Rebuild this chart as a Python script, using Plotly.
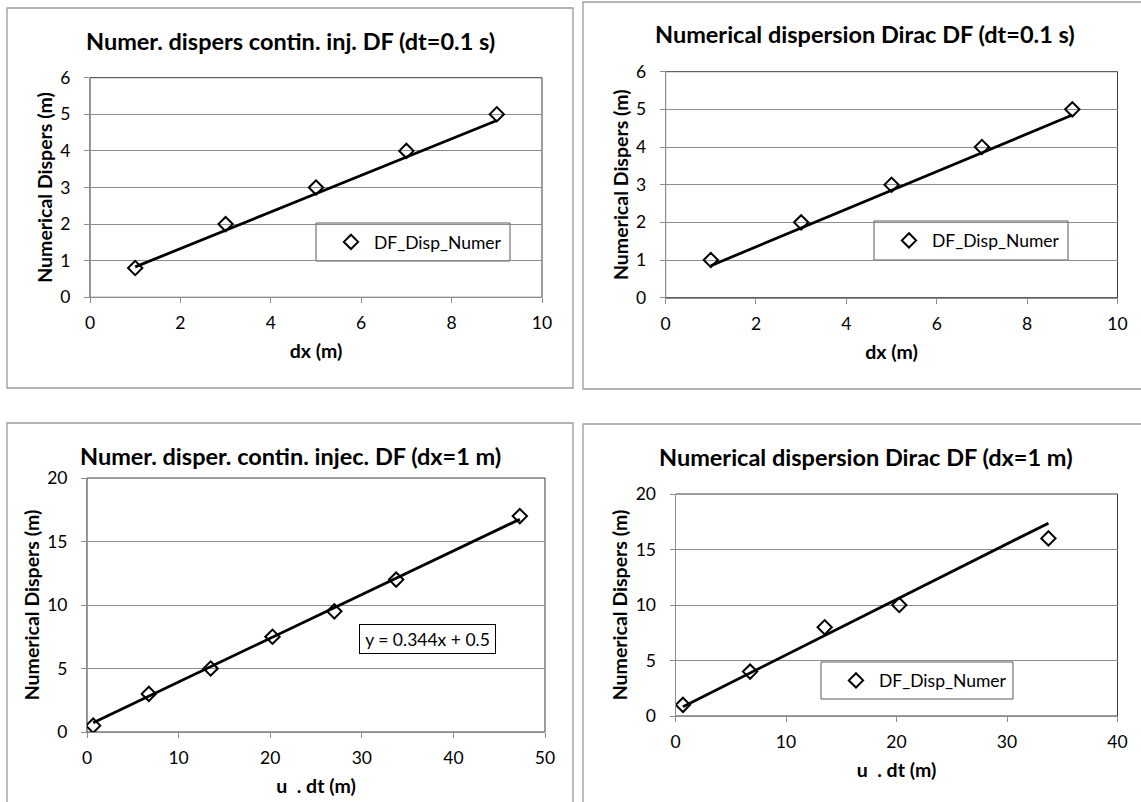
import plotly.graph_objects as go

W, H = 1141, 802

# ---------------- data ----------------
dx_values = [1, 3, 5, 7, 9]
disp_contin_dt = [0.8, 2, 3, 4, 5]
disp_dirac_dt = [1, 2, 3, 4, 5]

udt_contin = [0.675, 6.75, 13.5, 20.25, 27.0, 33.75, 47.25]
disp_contin_dx = [0.5, 3, 5, 7.5, 9.5, 12, 17]

udt_dirac = [0.675, 6.75, 13.5, 20.25, 33.75]
disp_dirac_dx = [1, 4, 8, 10, 16]

# trend lines: (slope, intercept)
trend_tl = (0.5, 0.33)
trend_tr = (0.5, 0.35)
trend_bl = (0.344, 0.5)
trend_br = (0.5, 0.5)

titles = [
    "Numer. dispers contin. inj. DF (dt=0.1 s)",
    "Numerical dispersion Dirac DF (dt=0.1 s)",
    "Numer. disper. contin. injec. DF (dx=1 m)",
    "Numerical dispersion Dirac DF (dx=1 m)",
]
x_titles = ["dx (m)", "dx (m)", "u\u00a0 . dt (m)", "u\u00a0 . dt (m)"]
y_title = "Numerical Dispers (m)"
x_ranges = [(0, 10, 2), (0, 10, 2), (0, 50, 10), (0, 40, 10)]
y_ranges = [(0, 6, 1), (0, 6, 1), (0, 20, 5), (0, 20, 5)]
legend_name = "DF_Disp_Numer"
equation_text = "y = 0.344x + 0.5"

# ---------------- layout helpers (pixel -> paper) ----------------
def px(x):
    return x / W

def py(y):
    return 1 - y / H

FONT = "Lato, 'Open Sans', sans-serif"
GRID = "#8c8c8c"
BORDER = "#9a9a9a"
TICK_SIZE = 17.5
AXT_SIZE = 19.5
TITLE_SIZE = 23.5
LEG_SIZE = 17.5

# plot areas in pixels: (x0, x1, ytop, ybottom)
areas = [
    (90, 542, 77.7, 297.3),
    (665.6, 1117.5, 71.7, 297.7),
    (87, 545, 478, 732),
    (675.5, 1117.5, 494, 716),
]
# panel frames (x0, x1, y0, y1)
frames = [
    (7, 573, 8, 388),
    (583, 1160, 2, 389),
    (7, 573, 423, 830),
    (583, 1160, 424, 830),
]
title_pos = [(290, 41), (865, 34), (290, 456), (866, 457)]

fig = go.Figure()

series = [
    (dx_values, disp_contin_dt, trend_tl, "legend"),
    (dx_values, disp_dirac_dt, trend_tr, "legend2"),
    (udt_contin, disp_contin_dx, trend_bl, None),
    (udt_dirac, disp_dirac_dx, trend_br, "legend3"),
]

for i, (xs, ys, (m, b), leg) in enumerate(series):
    sfx = "" if i == 0 else str(i + 1)
    xa, ya = "x" + sfx, "y" + sfx
    tx = [min(xs), max(xs)]
    ty = [m * v + b for v in tx]
    fig.add_trace(go.Scatter(
        x=tx, y=ty, mode="lines", xaxis=xa, yaxis=ya,
        line=dict(color="black", width=2.8), showlegend=False, hoverinfo="skip"))
    kw = dict(showlegend=leg is not None)
    if leg is not None:
        kw["legend"] = leg
    fig.add_trace(go.Scatter(
        x=xs, y=ys, mode="markers", xaxis=xa, yaxis=ya, name=legend_name,
        marker=dict(symbol="diamond-open", size=11, color="black",
                    line=dict(color="black", width=2)), **kw))

layout = dict(
    width=W, height=H, margin=dict(l=0, r=0, t=0, b=0),
    paper_bgcolor="white", plot_bgcolor="white",
    font=dict(family=FONT, color="black"),
    shapes=[], annotations=[],
)

for i, ((x0, x1, yt, yb), (xr0, xr1, xd), (yr0, yr1, yd)) in enumerate(zip(areas, x_ranges, y_ranges)):
    sfx = "" if i == 0 else str(i + 1)
    layout["xaxis" + sfx] = dict(
        domain=[px(x0), px(x1)], range=[xr0, xr1], dtick=xd, tick0=0,
        anchor="y" + sfx, showgrid=False, zeroline=False,
        showline=True, linecolor=GRID, linewidth=1,
        ticks="outside", ticklen=5, tickcolor=GRID, tickwidth=1,
        tickfont=dict(size=TICK_SIZE, family=FONT, color="black"),
        ticklabelstandoff=5,
        title=dict(text="<b>%s</b>" % x_titles[i], font=dict(size=AXT_SIZE, family=FONT), standoff=12),
        automargin=False, fixedrange=True,
    )
    layout["yaxis" + sfx] = dict(
        domain=[py(yb), py(yt)], range=[yr0, yr1], dtick=yd, tick0=0,
        anchor="x" + sfx, showgrid=True, gridcolor=GRID, gridwidth=1, zeroline=False,
        showline=True, linecolor=GRID, linewidth=1,
        ticks="outside", ticklen=5, tickcolor=GRID, tickwidth=1,
        tickfont=dict(size=TICK_SIZE, family=FONT, color="black"),
        ticklabelstandoff=10,
        title=dict(text="<b>%s</b>" % y_title, font=dict(size=AXT_SIZE, family=FONT), standoff=2),
        automargin=False, fixedrange=True,
    )
    # plot area border (top / right visible, darker)
    layout["shapes"].append(dict(
        type="rect", xref="paper", yref="paper", layer="below",
        x0=px(x0), x1=px(x1), y0=py(yb), y1=py(yt),
        line=dict(color="#3c3c3c", width=1)))
    # panel frame
    fx0, fx1, fy0, fy1 = frames[i]
    layout["shapes"].append(dict(
        type="rect", xref="paper", yref="paper", layer="below",
        x0=px(fx0), x1=px(fx1), y0=py(fy1), y1=py(fy0),
        line=dict(color=BORDER, width=1.3)))
    tx, ty = title_pos[i]
    layout["annotations"].append(dict(
        text="<b>%s</b>" % titles[i], xref="paper", yref="paper",
        x=px(tx), y=py(ty), xanchor="center", yanchor="middle",
        showarrow=False, font=dict(size=TITLE_SIZE, family=FONT, color="black")))

# legend boxes
legend_boxes = {
    "legend": (316, 510, 223, 261),
    "legend2": (874, 1068, 221, 260),
    "legend3": (821, 1013, 662, 699),
}
for key, (bx0, bx1, by0, by1) in legend_boxes.items():
    layout["shapes"].append(dict(
        type="rect", xref="paper", yref="paper", layer="between",
        x0=px(bx0), x1=px(bx1), y0=py(by1), y1=py(by0),
        fillcolor="white", line=dict(color="#595959", width=1)))
    layout[key] = dict(
        x=px(bx0 + 12), y=py((by0 + by1) / 2), xanchor="left", yanchor="middle",
        bgcolor="rgba(0,0,0,0)", borderwidth=0, itemwidth=36,
        font=dict(size=LEG_SIZE, family=FONT, color="black"),
    )

# equation box
layout["annotations"].append(dict(
    text=equation_text, xref="paper", yref="paper",
    x=px(427.5), y=py(639), xanchor="center", yanchor="middle",
    showarrow=False, width=135, height=28, borderpad=0,
    bordercolor="black", borderwidth=1, bgcolor="white",
    font=dict(size=LEG_SIZE, family=FONT, color="black")))

fig.update_layout(**layout)
fig.write_html("out.html")
